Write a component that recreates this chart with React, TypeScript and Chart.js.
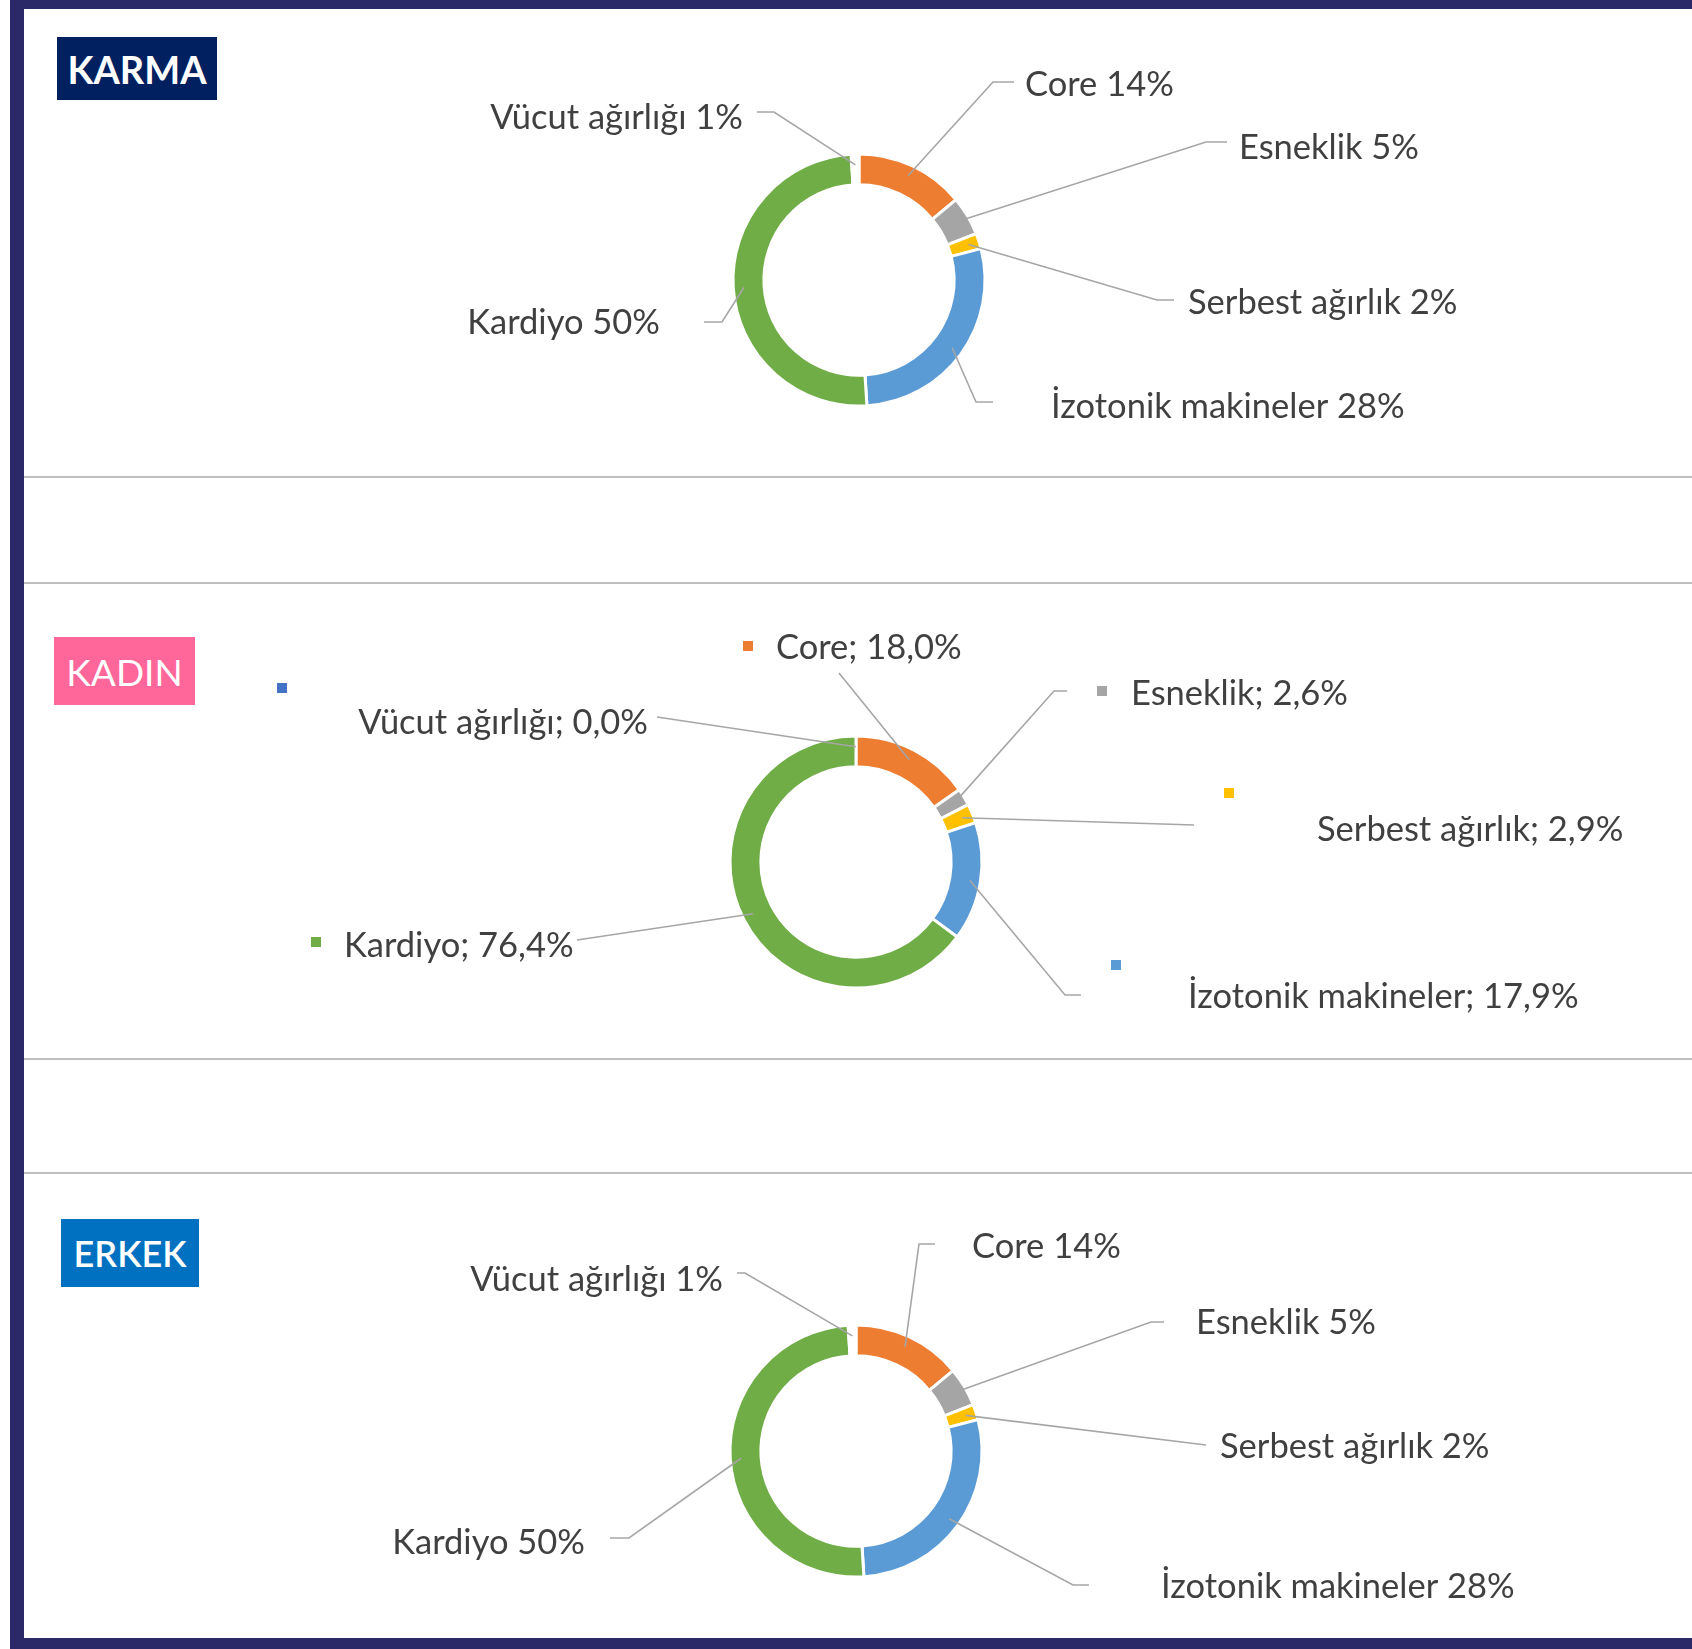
import React, { useEffect, useRef } from "react";
import { Chart, registerables } from "chart.js";

Chart.register(...registerables);

// ---------------- DATA ----------------
const categories = ["Core", "Esneklik", "Serbest ağırlık", "İzotonik makineler", "Kardiyo", "Vücut ağırlığı"];
const karmaValues = [14, 5, 2, 28, 50, 1];
const kadinValues = [18.0, 2.6, 2.9, 17.9, 76.4, 0.0];
const erkekValues = [14, 5, 2, 28, 50, 1];
const panelTitles = ["KARMA", "KADIN", "ERKEK"];

// ---------------- STYLE ----------------
const sliceColors = ["#ED7D31", "#A5A5A5", "#FFC000", "#5B9BD5", "#70AD47", "rgba(255,255,255,0)"];
const markerColors = ["#ED7D31", "#A5A5A5", "#FFC000", "#5B9BD5", "#70AD47", "#4472C4"];
const NAVY = "#2B2968";
const TEXT = "#404040";
const LEADER = "#A6A6A6";
const FONT = "Lato, 'Noto Sans', sans-serif";
const LABEL_FONT_PX = 34.5;

const fmtPlain = (c: string, v: number) => `${c} ${v}%`;
const fmtComma = (c: string, v: number) => `${c}; ${v.toFixed(1).replace(".", ",")}%`;

type LabelLayout = {
  x: number; // page x of text anchor
  y: number; // page y of text middle
  align: "left" | "right";
  pts: number[][]; // leader points in page coordinates (label side first)
  marker?: number[]; // legend key position (page coords)
};

// layouts (page coordinates) in category order
const karmaLayout: LabelLayout[] = [
  { x: 1025, y: 85, align: "left", pts: [[1014, 82], [993, 82]] },
  { x: 1239, y: 148, align: "left", pts: [[1227, 142], [1206, 142]] },
  { x: 1188, y: 303, align: "left", pts: [[1174, 300], [1157, 300]] },
  { x: 1051, y: 407, align: "left", pts: [[993, 402], [976, 402]] },
  { x: 660, y: 323, align: "right", pts: [[704, 322], [722, 322]] },
  { x: 743, y: 118, align: "right", pts: [[757, 112], [774, 112]] },
];
const kadinLayout: LabelLayout[] = [
  { x: 776, y: 648, align: "left", pts: [[839, 673]], marker: [748, 646] },
  { x: 1131, y: 694, align: "left", pts: [[1067, 691], [1054, 691]], marker: [1102, 691] },
  { x: 1317, y: 830, align: "left", pts: [[1194, 825]], marker: [1229, 793] },
  { x: 1188, y: 997, align: "left", pts: [[1081, 995], [1065, 995]], marker: [1116, 965] },
  { x: 344, y: 946, align: "left", pts: [[577, 940]], marker: [316, 942] },
  { x: 648, y: 723, align: "right", pts: [[657, 717]], marker: [282, 688] },
];
const erkekLayout: LabelLayout[] = [
  { x: 972, y: 1247, align: "left", pts: [[935, 1244], [919, 1244]] },
  { x: 1196, y: 1323, align: "left", pts: [[1164, 1322], [1151, 1322]] },
  { x: 1220, y: 1447, align: "left", pts: [[1206, 1445]] },
  { x: 1161, y: 1587, align: "left", pts: [[1089, 1585], [1073, 1585]] },
  { x: 585, y: 1543, align: "right", pts: [[610, 1538], [629, 1538]] },
  { x: 723, y: 1280, align: "right", pts: [[737, 1273], [745, 1273]] },
];

type PanelCfg = {
  title: string;
  badge: { left: number; top: number; width: number; height: number; bg: string; weight: number; size: number };
  values: number[];
  fmt: (c: string, v: number) => string;
  layout: LabelLayout[];
  band: { top: number; height: number };
  center: { x: number; y: number };
};

const CANVAS_LEFT = 24;
const CANVAS_W = 1692 - CANVAS_LEFT;

const panels: PanelCfg[] = [
  {
    title: panelTitles[0],
    badge: { left: 57, top: 37, width: 160, height: 63, bg: "#002060", weight: 700, size: 38 },
    values: karmaValues,
    fmt: fmtPlain,
    layout: karmaLayout,
    band: { top: 9, height: 467 },
    center: { x: 859, y: 280 },
  },
  {
    title: panelTitles[1],
    badge: { left: 54, top: 637, width: 141, height: 68, bg: "#FF6699", weight: 400, size: 37 },
    values: kadinValues,
    fmt: fmtComma,
    layout: kadinLayout,
    band: { top: 585, height: 473 },
    center: { x: 856, y: 862 },
  },
  {
    title: panelTitles[2],
    badge: { left: 61, top: 1219, width: 138, height: 68, bg: "#0070C0", weight: 600, size: 36 },
    values: erkekValues,
    fmt: fmtPlain,
    layout: erkekLayout,
    band: { top: 1174, height: 464 },
    center: { x: 856, y: 1451 },
  },
];

function makeLeaderPlugin(cfg: PanelCfg) {
  return {
    id: "leaders",
    afterDatasetsDraw(chart: any) {
      const ctx: CanvasRenderingContext2D = chart.ctx;
      const meta = chart.getDatasetMeta(0);
      const ox = CANVAS_LEFT;
      const oy = cfg.band.top;
      ctx.save();
      meta.data.forEach((arc: any, i: number) => {
        const p = arc.getProps(["x", "y", "startAngle", "endAngle", "innerRadius", "outerRadius"], true);
        const mid = (p.startAngle + p.endAngle) / 2;
        const r = p.innerRadius + (p.outerRadius - p.innerRadius) * 0.65;
        const ax = p.x + Math.cos(mid) * r;
        const ay = p.y + Math.sin(mid) * r;
        const L = cfg.layout[i];
        ctx.beginPath();
        ctx.strokeStyle = LEADER;
        ctx.lineWidth = 1.6;
        L.pts.forEach(([x, y], k) => {
          if (k === 0) ctx.moveTo(x - ox, y - oy);
          else ctx.lineTo(x - ox, y - oy);
        });
        ctx.lineTo(ax, ay);
        ctx.stroke();
        if (L.marker) {
          ctx.fillStyle = markerColors[i];
          ctx.fillRect(L.marker[0] - ox - 5, L.marker[1] - oy - 5, 10, 10);
        }
        ctx.fillStyle = TEXT;
        ctx.font = `${LABEL_FONT_PX}px ${FONT}`;
        ctx.textAlign = L.align;
        ctx.textBaseline = "middle";
        ctx.fillText(cfg.fmt(categories[i], cfg.values[i]), L.x - ox, L.y - oy);
      });
      ctx.restore();
    },
  };
}

function DonutPanel({ cfg }: { cfg: PanelCfg }) {
  const ref = useRef<HTMLCanvasElement | null>(null);
  useEffect(() => {
    if (!ref.current) return;
    const H = cfg.band.height;
    const cx = cfg.center.x - CANVAS_LEFT;
    const cy = cfg.center.y - cfg.band.top;
    const S = 140;
    const chart = new Chart(ref.current, {
      type: "doughnut",
      data: {
        labels: categories,
        datasets: [
          {
            data: cfg.values,
            backgroundColor: sliceColors,
            borderColor: "#FFFFFF",
            borderWidth: 3,
          },
        ],
      },
      options: {
        animation: false,
        responsive: false,
        maintainAspectRatio: false,
        radius: 126,
        cutout: "75.5%",
        events: [],
        layout: {
          padding: { left: cx - S, right: CANVAS_W - cx - S, top: cy - S, bottom: H - cy - S },
        },
        plugins: { legend: { display: false }, tooltip: { enabled: false }, title: { display: false } },
      } as any,
      plugins: [makeLeaderPlugin(cfg)],
    });
    return () => chart.destroy();
  }, [cfg]);
  return (
    <canvas
      ref={ref}
      width={CANVAS_W}
      height={cfg.band.height}
      style={{ position: "absolute", left: CANVAS_LEFT, top: cfg.band.top, width: CANVAS_W, height: cfg.band.height }}
    />
  );
}

export default function App() {
  const sepYs = [476, 582, 1058, 1172];
  return (
    <div style={{ position: "fixed", left: 0, top: 0, width: 1692, height: 1649, background: "#FFFFFF", overflow: "hidden" }}>
      {panels.map((p) => (
        <DonutPanel key={p.title} cfg={p} />
      ))}
      {sepYs.map((y) => (
        <div key={y} style={{ position: "absolute", left: CANVAS_LEFT, top: y, width: CANVAS_W, height: 2, background: "#BFBFBF" }} />
      ))}
      {panels.map((p) => (
        <div
          key={p.title + "b"}
          style={{
            position: "absolute",
            left: p.badge.left,
            top: p.badge.top,
            width: p.badge.width,
            height: p.badge.height,
            background: p.badge.bg,
            color: "#FFFFFF",
            fontFamily: FONT,
            fontWeight: p.badge.weight,
            fontSize: p.badge.size,
            display: "flex",
            alignItems: "center",
            justifyContent: "center",
            lineHeight: 1,
          }}
        >
          {p.title}
        </div>
      ))}
      <div style={{ position: "absolute", left: 10, top: 0, width: 1682, height: 9, background: NAVY }} />
      <div style={{ position: "absolute", left: 10, top: 0, width: 14, height: 1649, background: NAVY }} />
      <div style={{ position: "absolute", left: 10, top: 1638, width: 1682, height: 11, background: NAVY }} />
    </div>
  );
}
